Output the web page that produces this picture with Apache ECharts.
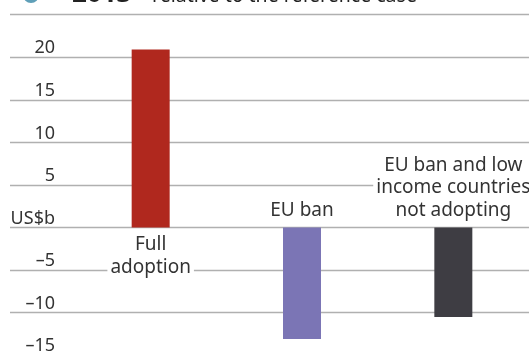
<!DOCTYPE html>
<html>
<head>
<meta charset="utf-8">
<script src="https://cdn.jsdelivr.net/npm/echarts@6/dist/echarts.min.js"></script>
<style>html,body{margin:0;padding:0;background:#fff;overflow:hidden;}#c{width:529px;height:362px;}</style>
</head>
<body>
<div id="c"></div>
<script>
const categories = ['Full\nadoption', 'EU ban', 'EU ban and low\nincome countries\nnot adopting'];
const values = [20.9, -13.1, -10.5];
const barColors = ['#b0281e', '#7b75b5', '#3e3d43'];
const yMin = -15, yMax = 25, yStep = 5;
const zeroLabel = 'US$b';
const titleYear = '2013';
const titleText = 'relative to the reference case';

const FONT = 'Noto Sans';
const chart = echarts.init(document.getElementById('c'), null, {renderer: 'canvas'});
const gridTop = 14.7, gridBottom = 362 - 355.3;

chart.setOption({
  animation: false,
  backgroundColor: '#fff',
  graphic: [
    {type: 'circle', shape: {cx: 31, cy: -5, r: 8}, style: {fill: '#5f9fb8'}},
    {type: 'text', x: 72, y: 8, style: {text: titleYear, font: 'bold 26px "' + FONT + '"', fill: '#222', verticalAlign: 'bottom'}},
    {type: 'text', x: 152, y: 6.5, style: {text: titleText, font: '19.5px "' + FONT + '"', fill: '#222', verticalAlign: 'bottom'}}
  ],
  grid: [
    {left: 10, right: 0, top: gridTop, bottom: gridBottom},
    {left: 75, right: 0, top: gridTop, bottom: gridBottom}
  ],
  xAxis: [
    {gridIndex: 0, type: 'category', data: [''], show: false},
    {gridIndex: 1, type: 'category', data: categories, show: false}
  ],
  yAxis: [
    {gridIndex: 0, type: 'value', min: yMin, max: yMax, interval: yStep,
      axisLine: {show: false}, axisTick: {show: false},
      splitLine: {show: true, lineStyle: {color: '#b0b0b0', width: 1.3}},
      axisLabel: {inside: true, margin: 45, align: 'right', verticalAlign: 'bottom',
        fontFamily: FONT, fontSize: 18, color: '#333', showMaxLabel: false,
        formatter: v => v === yMax ? '' : (v === 0 ? zeroLabel : (v < 0 ? '\u2013' + Math.abs(v) : String(v)))}
    },
    {gridIndex: 1, type: 'value', min: yMin, max: yMax, interval: yStep, show: false, splitLine: {show: false}}
  ],
  series: [{
    type: 'bar', xAxisIndex: 1, yAxisIndex: 1, barWidth: 38,
    data: values.map((v, i) => ({
      value: v,
      itemStyle: {color: barColors[i]},
      label: {
        show: true,
        position: v >= 0 ? 'bottom' : 'top',
        distance: 6,
        formatter: categories[i],
        fontFamily: FONT, fontSize: 19, lineHeight: 22.5, color: '#333',
        backgroundColor: '#fff', padding: [0, 3], align: 'center'
      }
    }))
  }]
});
</script>
</body>
</html>
